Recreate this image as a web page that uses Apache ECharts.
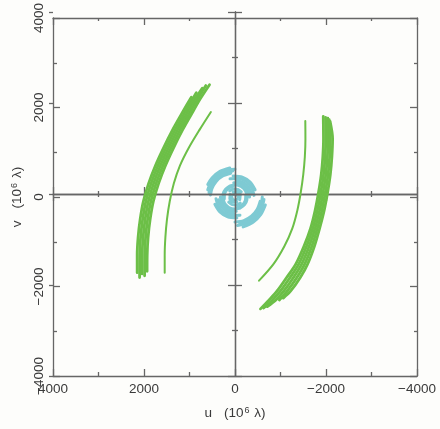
<!DOCTYPE html>
<html><head><meta charset="utf-8">
<script src="https://cdn.jsdelivr.net/npm/echarts@6/dist/echarts.min.js"></script>
<style>html,body{margin:0;padding:0;background:#fdfdfb}#c{width:440px;height:429px}</style>
</head><body><div id="c"></div>
<script>
// ---- data (u, v in 10^6 lambda) ----
const axisMin = -4000, axisMax = 4000, majorStep = 2000;

const leftTrack1 = [[560,2510],[760,2200],[930,1900],[1152,1500],[1350,1100],[1530,700],[1680,300],[1795,-100],[1865,-500],[1910,-900],[1930,-1300],[1932,-1660]];
const leftTrack2 = [[640,2490],[815,2200],[985,1900],[1207,1500],[1405,1100],[1585,700],[1735,300],[1850,-100],[1920,-500],[1965,-900],[1985,-1300],[1987,-1760]];
const leftTrack3 = [[720,2430],[870,2200],[1040,1900],[1262,1500],[1460,1100],[1640,700],[1790,300],[1905,-100],[1975,-500],[2020,-900],[2040,-1300],[2042,-1720]];
const leftTrack4 = [[850,2330],[925,2200],[1095,1900],[1317,1500],[1515,1100],[1695,700],[1845,300],[1960,-100],[2030,-500],[2075,-900],[2095,-1300],[2097,-1800]];
const leftTrack5 = [[960,2230],[1150,1900],[1372,1500],[1570,1100],[1750,700],[1900,300],[2015,-100],[2085,-500],[2130,-900],[2150,-1300],[2150,-1690]];
const leftThin   = [[530,1900],[780,1500],[1015,1100],[1210,700],[1345,300],[1435,-100],[1495,-500],[1530,-900],[1545,-1300],[1545,-1690]];

const rightTrack1 = [[-1940,1800],[-1945,1300],[-1930,900],[-1895,500],[-1835,100],[-1760,-300],[-1660,-700],[-1515,-1100],[-1335,-1500],[-1135,-1800],[-925,-2100],[-750,-2300],[-560,-2500]];
const rightTrack2 = [[-1990,1780],[-1995,1300],[-1980,900],[-1945,500],[-1885,100],[-1810,-300],[-1710,-700],[-1572,-1100],[-1400,-1500],[-1210,-1800],[-1000,-2100],[-825,-2300],[-630,-2480]];
const rightTrack3 = [[-2040,1760],[-2045,1300],[-2030,900],[-1995,500],[-1935,100],[-1860,-300],[-1760,-700],[-1630,-1100],[-1465,-1500],[-1285,-1800],[-1075,-2100],[-900,-2300],[-710,-2450]];
const rightTrack4 = [[-2070,1730],[-2095,1300],[-2080,900],[-2045,500],[-1985,100],[-1910,-300],[-1810,-700],[-1688,-1100],[-1530,-1500],[-1360,-1800],[-1150,-2100],[-975,-2300]];
const rightTrack5 = [[-2090,1690],[-2145,1300],[-2130,900],[-2095,500],[-2035,100],[-1960,-300],[-1860,-700],[-1745,-1100],[-1595,-1500],[-1435,-1800],[-1225,-2100],[-1060,-2260]];
const rightThin   = [[-1545,1700],[-1548,1300],[-1535,900],[-1500,500],[-1445,100],[-1370,-300],[-1260,-700],[-1085,-1100],[-845,-1500],[-528,-1870]];

// central short-baseline tracks
const cyanA1 = [[94,532],[270,468],[414,347],[508,185],[538,47]];
const cyanA2 = [[51,578],[245,526],[410,410],[526,245],[571,101]];
const cyanA3 = [[0,620],[212,583],[399,475],[537,310],[599,161]];
const cyanA4 = [[115,650],[330,572],[506,424],[598,279]];
const cyanB1 = [[-552,-97],[-485,-280],[-360,-429],[-192,-526],[0,-560]];
const cyanB2 = [[-600,0],[-564,-205],[-460,-386],[-300,-520],[-104,-591]];
const cyanB3 = [[-637,-56],[-580,-271],[-453,-453],[-271,-580],[-56,-637]];
const cyanB4 = [[-667,-179],[-565,-396],[-396,-565],[-179,-667]];
const cyanC0 = [[-270,0],[-234,135],[-135,234],[0,270],[92,254]];
const cyanC1 = [[-320,0],[-290,135],[-206,245],[-83,309],[28,319]];
const cyanC2 = [[-364,64],[-303,212],[-185,320],[-32,369]];
const cyanC3 = [[-418,37],[-364,210],[-241,344],[-73,414],[109,406]];
const cyanC4 = [[-442,161],[-332,332],[-161,442],[41,468]];
const cyanD0 = [[270,0],[234,-135],[135,-234],[0,-270],[-92,-254]];
const cyanD1 = [[320,0],[290,-135],[206,-245],[83,-309],[-28,-319]];
const cyanD2 = [[364,-64],[303,-212],[185,-320],[32,-369]];
const cyanD3 = [[418,-37],[364,-210],[241,-344],[73,-414],[-109,-406]];
const cyanD4 = [[442,-161],[332,-332],[161,-442],[-41,-468]];
const cyanE1 = [[42,236],[154,184],[226,82],[236,-42]];
const cyanE2 = [[-42,-236],[-154,-184],[-226,-82],[-236,42]];
const cyanE3 = [[-138,116],[-62,169],[31,177],[116,138]];
const cyanE4 = [[138,-116],[62,-169],[-31,-177],[-116,-138]];
const cyanE5 = [[104,60],[113,-41],[41,-113],[-41,-113]];
const cyanE6 = [[-104,-60],[-113,41],[-41,113],[41,113]];
const cyanE7 = [[114,245],[207,174],[261,70],[266,-47],[245,-114]];
const cyanE8 = [[-114,-245],[-207,-174],[-261,-70],[-266,47],[-245,114]];
const cyanE9 = [[-70,0],[-50,50],[0,70],[50,50]];
const cyanE10 = [[70,0],[50,-50],[0,-70],[-50,-50]];

const greenTracks = [leftTrack1,leftTrack2,leftTrack3,leftTrack4,leftTrack5,rightTrack1,rightTrack2,rightTrack3,rightTrack4,rightTrack5];
const greenThin = [leftThin, rightThin];
const cyanTracks = [cyanA1,cyanA2,cyanA3,cyanA4,cyanB1,cyanB2,cyanB3,cyanB4,cyanC0,cyanC1,cyanC2,cyanC3,cyanC4,
  cyanD0,cyanD1,cyanD2,cyanD3,cyanD4,cyanE1,cyanE2,cyanE3,cyanE4,cyanE5,cyanE6,cyanE7,cyanE8,cyanE9,cyanE10];

// ---- chart ----
const GREEN = '#6cbf47', CYAN = '#7ecad3', AXIS = '#666666', TEXT = '#3a3a3a';
const FONT = '"Liberation Sans", Arial, sans-serif';
const rect = {left: 53, top: 12, width: 364, height: 364};
const fmt = v => String(v).replace('-', '\u2212');
const tickStyle = {color: AXIS, width: 1.3};

function baseAxis(extra) {
  return Object.assign({
    type: 'value', min: axisMin, max: axisMax, interval: majorStep,
    splitLine: {show: false},
    axisLine: {show: true, onZero: false, lineStyle: {color: AXIS, width: 1.3}},
    axisTick: {show: true, inside: true, length: 7, lineStyle: tickStyle},
    minorTick: {show: true, splitNumber: 2, length: 4, lineStyle: tickStyle},
    axisLabel: {show: false}
  }, extra);
}
function zeroAxis(gridIndex, position, inside) {
  return baseAxis({gridIndex: gridIndex, position: position, z: 3,
    axisLine: {show: true, onZero: true, lineStyle: {color: AXIS, width: 1.3}},
    axisTick: {show: true, inside: inside, length: 7, lineStyle: tickStyle},
    minorTick: {show: true, splitNumber: 2, length: 3, lineStyle: tickStyle}});
}

const nameRich = {
  t: {fontFamily: FONT, fontSize: 13.5, color: TEXT},
  s: {fontFamily: FONT, fontSize: 9, color: TEXT, verticalAlign: 'top', padding: [0,1,6,1]},
  g: {width: 12}
};

const xAxes = [
  baseAxis({gridIndex: 0, position: 'bottom', inverse: true,
    axisLabel: {show: true, margin: 6, formatter: fmt, fontFamily: FONT, fontSize: 13.5, color: TEXT},
    name: '{t|u}{g|}{t|(10}{s|6}{t| λ)}', nameLocation: 'middle', nameGap: 30, nameTextStyle: {rich: nameRich}}),
  baseAxis({gridIndex: 0, position: 'top', inverse: true, minorTick: {show: true, splitNumber: 2, length: 3, lineStyle: tickStyle}}),
  zeroAxis(1, 'bottom', false),
  zeroAxis(2, 'bottom', true),
  baseAxis({gridIndex: 3, show: false})
];
const yAxes = [
  baseAxis({gridIndex: 0, position: 'left',
    axisLabel: {show: true, rotate: 90, margin: 7, formatter: fmt, fontFamily: FONT, fontSize: 13.5, color: TEXT},
    name: '{t|v}{g|}{t|(10}{s|6}{t| λ)}', nameLocation: 'middle', nameRotate: 90, nameGap: 28, nameTextStyle: {rich: nameRich}}),
  baseAxis({gridIndex: 0, position: 'right', minorTick: {show: true, splitNumber: 2, length: 3, lineStyle: tickStyle}}),
  zeroAxis(1, 'left', false),
  zeroAxis(2, 'left', true),
  baseAxis({gridIndex: 3, position: 'left', axisLine: {show: false, onZero: false},
    axisTick: {show: true, inside: false, length: 4, lineStyle: tickStyle}, minorTick: {show: false}})
];

function track(data, color, width, z) {
  return {type: 'line', xAxisIndex: 0, yAxisIndex: 0, data: data, symbol: 'none', showSymbol: false,
    smooth: 0.3, silent: true, z: z, lineStyle: {color: color, width: width, cap: 'round'}};
}

const series = [];
cyanTracks.forEach(d => series.push(track(d, CYAN, 3, 2)));
greenTracks.forEach(d => series.push(track(d, GREEN, 2.8, 4)));
greenThin.forEach(d => series.push(track(d, GREEN, 2, 4)));

const chart = echarts.init(document.getElementById('c'), null, {renderer: 'canvas'});
chart.setOption({
  backgroundColor: '#fdfdfb',
  animation: false,
  grid: [Object.assign({}, rect), Object.assign({}, rect), Object.assign({}, rect), Object.assign({}, rect)],
  xAxis: xAxes,
  yAxis: yAxes,
  series: series
});
</script>
</body></html>
